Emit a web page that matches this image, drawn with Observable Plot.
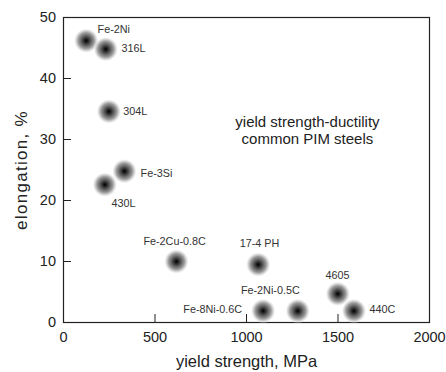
<!DOCTYPE html>
<html>
<head>
<meta charset="utf-8">
<script src="https://cdn.jsdelivr.net/npm/d3@7"></script>
<script src="https://cdn.jsdelivr.net/npm/@observablehq/plot@0.6"></script>
<style>
  html, body { margin: 0; padding: 0; background: #fff; }
</style>
</head>
<body>
<div id="chart"></div>
<script>
// Steels: yield strength (MPa) vs elongation (%)
const alloys = ["Fe-2Ni", "316L", "304L", "Fe-3Si", "430L", "Fe-2Cu-0.8C", "17-4 PH", "Fe-8Ni-0.6C", "Fe-2Ni-0.5C", "4605", "440C"];
const yieldMPa = [124, 231, 248, 333, 226, 617, 1064, 1091, 1280, 1499, 1587];
const elongation = [46.2, 44.8, 34.6, 24.8, 22.6, 10.0, 9.5, 1.9, 1.9, 4.7, 1.9];

// Label anchor points (data units)
const labelX = [186, 317, 326, 421, 262, 607, 1071, 976, 1130, 1497, 1672];
const labelY = [48.1, 44.9, 34.6, 24.5, 19.45, 13.3, 12.9, 2.13, 5.25, 7.7, 2.13];
const labelAlign = ["start", "start", "start", "start", "start", "middle", "middle", "end", "middle", "middle", "start"];

const xTicks = [0, 500, 1000, 1500, 2000];
const yTicks = [0, 10, 20, 30, 40, 50];

const noteText = "yield strength-ductility\ncommon PIM steels";
const noteX = 1333, noteY = 31.5;

const points = alloys.map((a, i) => ({alloy: a, x: yieldMPa[i], y: elongation[i]}));
const labels = alloys.map((a, i) => ({alloy: a, x: labelX[i], y: labelY[i], anchor: labelAlign[i]}));

const font = "'Liberation Sans', Arial, Helvetica, sans-serif";

const plot = Plot.plot({
  width: 446,
  height: 372,
  marginLeft: 63,
  marginTop: 17,
  marginRight: 17,
  marginBottom: 50,
  style: {fontFamily: font, background: "#fff", color: "#222"},
  x: {domain: [0, 2000], label: null},
  y: {domain: [0, 50], label: null},
  marks: [
    Plot.axisX({ticks: xTicks, tickFormat: d => String(d), tickSize: -8, tickPadding: 17, fontSize: 14.5, label: null}),
    Plot.axisY({ticks: yTicks, tickFormat: d => String(d), tickSize: -8, tickPadding: 15.5, fontSize: 14.5, label: null}),
    Plot.frame({stroke: "#222", strokeWidth: 1.2}),
    Plot.dot(points, {x: "x", y: "y", r: 12.5, fill: "url(#blob)", stroke: "none"}),
    ...["start", "middle", "end"].map(anc =>
      Plot.text(labels.filter(d => d.anchor === anc), {x: "x", y: "y", text: "alloy", textAnchor: anc, fontSize: 10.8, fill: "#333"})
    ),
    Plot.text([noteText], {x: noteX, y: noteY, text: d => d, fontSize: 15, lineHeight: 1.1, fill: "#222"}),
    Plot.text(["yield strength, MPa"], {frameAnchor: "bottom", dy: 39.5, textAnchor: "middle", lineAnchor: "middle", text: d => d, fontSize: 16.5, fill: "#222"}),
    Plot.text(["elongation, %"], {frameAnchor: "left", dx: -42, rotate: -90, textAnchor: "middle", lineAnchor: "middle", text: d => d, fontSize: 17, fill: "#222", className: "ylab"})
  ]
});

const svg = d3.select(plot);
svg.selectAll(".ylab text").style("letter-spacing", "1.3px");
const defs = svg.insert("defs", ":first-child");
const g = defs.append("radialGradient").attr("id", "blob");
[[0, "#000", 1], [0.08, "#111", 1], [0.35, "#555", 1], [0.65, "#999", 0.95], [0.85, "#cfcfcf", 0.6], [1, "#fff", 0]]
  .forEach(([o, c, op]) => g.append("stop").attr("offset", o).attr("stop-color", c).attr("stop-opacity", op));

document.getElementById("chart").appendChild(plot);
</script>
</body>
</html>
